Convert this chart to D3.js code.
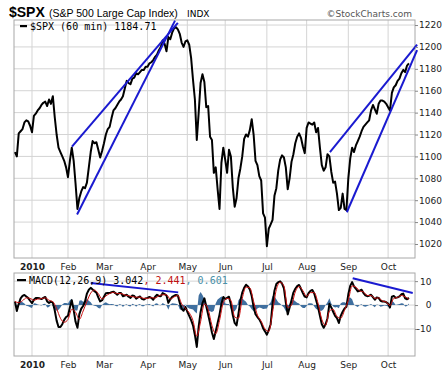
<!DOCTYPE html>
<html>
<head>
<meta charset="utf-8">
<script src="https://cdn.jsdelivr.net/npm/d3@7"></script>
<style>
body { margin: 0; background: #fff; }
svg { display: block; }
.axis path.domain { display: none; }
.axis line { stroke: #888; }
</style>
</head>
<body>
<div id="chart"></div>
<script>
// x axis: trading day index, 0 = Jan 4 2010
const monthLabels = ['2010', 'Feb', 'Mar', 'Apr', 'May', 'Jun', 'Jul', 'Aug', 'Sep', 'Oct'];
const monthDays = [0, 19, 38, 61, 82, 102, 124, 145, 167, 188];

const priceTicks = [1020, 1040, 1060, 1080, 1100, 1120, 1140, 1160, 1180, 1200, 1220];
const macdTicks = [-10, 0, 10];

// $SPX, one reading per trading day, starting at day -9
const spxStartDay = -9;
const spxClose = [
    1104, 1100, 1121, 1123, 1125, 1131, 1133, 1132, 1128, 1122,
    1137, 1139, 1142, 1144, 1147, 1149, 1150, 1146, 1152, 1148,
    1155, 1136, 1120, 1108, 1104, 1100, 1096, 1090, 1081, 1096,
    1108, 1096, 1075, 1052, 1062, 1068, 1072, 1071, 1076, 1090,
    1104, 1114, 1112, 1113, 1106, 1099, 1105, 1112, 1120, 1125,
    1127, 1135, 1142, 1144, 1147, 1150, 1152, 1155, 1162, 1169,
    1167, 1166, 1171, 1172, 1176, 1175, 1177, 1179, 1179, 1182,
    1182, 1185, 1186, 1188, 1191, 1193, 1197, 1200, 1206, 1203,
    1196, 1209, 1207, 1213, 1217, 1218, 1216, 1212, 1204, 1200,
    1205, 1206, 1202, 1190, 1170, 1152, 1115, 1140, 1167, 1175,
    1168, 1145, 1146, 1118, 1115, 1085, 1090, 1070, 1052, 1094,
    1108, 1097, 1085, 1106, 1100, 1072, 1054, 1062, 1080, 1089,
    1100, 1116, 1120, 1118, 1124, 1134, 1120, 1096, 1092, 1082,
    1078, 1048, 1044, 1018, 1034, 1038, 1042, 1064, 1071, 1087,
    1097, 1101, 1099, 1090, 1070, 1080, 1095, 1102, 1112, 1118,
    1121, 1117, 1109, 1103, 1126, 1131, 1130, 1129, 1131, 1122,
    1126, 1108, 1092, 1087, 1090, 1102, 1100, 1086, 1076, 1077,
    1066, 1051, 1053, 1066, 1052, 1051, 1080, 1098, 1108, 1104,
    1110, 1114, 1118, 1123, 1127, 1129, 1131, 1133, 1142, 1147,
    1143, 1139, 1148, 1151, 1151, 1150, 1148, 1145, 1142, 1158,
    1163, 1165, 1169, 1171, 1176, 1179, 1177, 1183, 1185
];

// MACD(12,26,9), same days as the price
const macdValues = [
    1.5, -2.5, 0.5, 2.8, 3.8, 4.2, 3.6, 2.9, 1.8, 0.8,
    2.2, 2.9, 2.9, 2.8, 2.5, 3.0, 3.4, 1.5, 0.9, 1.4,
    1.0, -2.2, -6.5, -9.2, -9.2, -8.0, -6.2, -5.0, -4.5, -1.0,
    2.0, -2.0, -7.0, -9.5, -3.8, -1.5, -0.4, 1.5, 4.8, 6.4,
    7.2, 6.5, 5.8, 5.2, 3.2, 1.5, 2.0, 3.5, 4.9, 5.0,
    5.0, 5.4, 5.6, 5.0, 4.3, 5.0, 5.0, 3.7, 4.0, 4.3,
    3.5, 3.0, 4.0, 3.8, 2.7, 3.2, 3.6, 2.6, 2.3, 2.8,
    3.0, 3.4, 3.0, 2.2, 3.5, 4.3, 3.8, 3.7, 5.0, 4.6,
    4.0, 0.9, 2.4, 3.4, 3.9, 4.2, 4.0, 1.0, -1.5, -2.4,
    -0.8, -2.8, -4.5, -6.3, -8.5, -12.5, -17.5, -9.0, -3.0, 0.8,
    2.8, -0.5, -4.0, -7.5, -11.5, -14.2, -11.0, -7.5, -4.0, 0.5,
    3.4, 2.5, 3.0, 3.5, 0.3, -4.2, -7.5, -8.5, -3.6, 1.8,
    5.2, 7.2, 8.5, 7.8, 6.5, 3.8, -0.8, -3.8, -5.0, -6.0,
    -7.5, -9.7, -11.0, -12.4, -10.5, -8.0, 0.5, 6.0, 8.8, 9.6,
    9.9, 9.0, 7.0, 1.0, -3.9, -1.0, 2.0, 5.2, 6.8, 7.9,
    8.4, 6.8, 5.0, 3.5, 3.2, 5.0, 5.9, 6.3, 4.8, 2.0,
    -0.8, -4.5, -8.0, -9.5, -8.0, -5.5, 0.5, -1.0, -2.8, -4.5,
    -5.5, -7.5, -4.5, -2.8, -1.4, -0.7, 4.5, 8.0, 9.6, 7.8,
    6.8, 5.7, 6.0, 6.4, 5.0, 4.1, 3.7, 3.9, 4.3, 3.3,
    2.2, 3.2, 3.0, 1.8, 1.5, 1.5, 1.2, 0.6, -1.0, 3.5,
    3.8, 3.0, 3.2, 3.6, 4.5, 4.8, 2.8, 2.4, 3.0
];

// signal line, read every 2nd day
const signalStep = 2;
const signalValues = [
    1.5, 1.0, 1.8, 3.0, 2.8, 2.0, 2.5, 2.7, 3.0, 2.0,
    1.4, -1.5, -5.5, -7.2, -6.0, -1.8, -3.0, -6.0, -2.5, 1.5,
    5.0, 6.3, 4.8, 2.5, 3.8, 4.8, 5.3, 4.8, 4.8, 4.2,
    3.9, 3.5, 3.3, 3.3, 2.8, 2.8, 3.1, 2.9, 3.9, 4.3,
    4.3, 2.5, 3.4, 4.0, 0.5, -1.4, -3.2, -6.5, -13.0, -7.0,
    0.5, -1.8, -8.5, -12.0, -6.5, 1.0, 2.8, 2.0, -5.0, -5.5,
    2.8, 7.5, 7.2, 1.5, -4.2, -6.8, -10.0, -11.0, -3.0, 6.5,
    9.5, 8.0, -1.0, 0.0, 5.5, 7.8, 6.0, 3.6, 5.2, 5.2,
    0.8, -6.0, -8.5, -2.5, -1.8, -4.8, -5.5, -2.2, 2.0, 8.0,
    7.5, 5.9, 5.5, 4.0, 4.0, 2.8, 3.0, 1.7, 1.3, -0.2,
    2.8, 3.2, 4.0, 3.5, 2.4
];

// MACD histogram, same days as the price
const histValues = [
    0.5, -1.5, 1.0, 1.8, 1.2, 0.6, -0.3, -0.5, -0.9, -1.2,
    0.8, 0.7, 0.2, 0.0, -0.2, 0.4, 0.5, -1.0, -0.8, 0.2,
    -0.3, -1.8, -2.4, -2.0, -1.0, 0.2, 0.9, 0.9, 0.6, 2.0,
    2.6, -0.8, -2.4, -2.2, 1.8, 2.0, 1.4, 1.6, 2.6, 1.8,
    1.2, 0.0, -0.3, -0.5, -1.2, -1.4, 0.0, 0.8, 1.2, 0.7,
    0.3, 0.4, 0.3, -0.3, -0.6, 0.3, 0.2, -0.8, 0.0, 0.3,
    -0.4, -0.6, 0.5, 0.1, -0.7, 0.1, 0.4, -0.5, -0.5, 0.2,
    0.2, 0.4, -0.1, -0.6, 0.5, 0.8, 0.0, -0.1, 0.9, 0.3,
    -0.2, -2.0, 0.2, 0.8, 0.6, 0.5, 0.2, -1.8, -2.2, -1.8,
    0.2, -0.9, -1.4, -1.6, -1.9, -2.8, -3.5, 4.0, 5.5, 4.2,
    2.5, -1.0, -2.4, -2.6, -2.9, -2.4, 0.8, 2.3, 3.0, 3.6,
    3.0, 0.6, 0.4, 0.4, -1.8, -2.8, -2.6, -1.4, 2.0, 3.0,
    2.8, 2.0, 1.4, 0.0, -0.6, -1.8, -2.6, -2.3, -1.4, -1.0,
    -1.2, -1.6, -1.5, -1.4, 0.2, 1.2, 3.8, 3.6, 2.4, 1.2,
    0.6, -0.3, -1.0, -2.6, -3.0, 0.4, 1.8, 2.2, 1.6, 1.0,
    0.6, -0.6, -1.2, -1.2, -0.4, 0.8, 0.8, 0.6, -0.6, -1.6,
    -2.0, -2.4, -2.4, -1.6, 0.0, 1.2, 2.8, 0.6, -0.6, -1.0,
    -0.8, -1.3, 0.8, 1.2, 1.2, 0.8, 3.0, 3.2, 2.4, 0.2,
    -0.4, -0.8, 0.0, 0.3, -0.5, -0.7, -0.4, 0.0, 0.4, -0.3,
    -0.9, 0.2, 0.0, -0.7, -0.5, -0.2, -0.3, -0.6, -1.6, 1.8,
    1.2, 0.0, 0.2, 0.4, 0.8, 0.7, -0.6, -0.4, 0.6
];

// hand drawn trend lines: [day, value] pairs
const priceWedges = [
    [[21.1, 1109], [77.0, 1222]],
    [[23.8, 1047], [75.5, 1224]],
    [[157.3, 1104], [203.3, 1202]],
    [[166.2, 1049], [203.3, 1197]]
];
const macdTrendLines = [
    [[31.0, 9.2], [77.2, 5.3]],
    [[169.3, 11.2], [201.0, 5.0]]
];

const width = 448, height = 375;
const left = 14, right = 415;
const mainTop = 20, mainBottom = 258;
const macdTop = 273, macdBottom = 356;

const svg = d3.select('#chart').append('svg')
    .attr('width', width)
    .attr('height', height);

const x = d3.scaleLinear().domain([-9.5, 202.2]).range([left, right]);
const yPrice = d3.scaleLinear().domain([1007.2, 1224.6]).range([mainBottom, mainTop]);
const yMacd = d3.scaleLinear().domain([-21.3, 13.4]).range([macdBottom, macdTop]);

const spx = spxClose.map((v, i) => ({ d: spxStartDay + i, v }));
const macd = macdValues.map((v, i) => ({ d: spxStartDay + i, v }));
const hist = histValues.map((v, i) => ({ d: spxStartDay + i, v }));
const signal = signalValues.map((v, i) => ({ d: spxStartDay + i * signalStep, v }));

const defs = svg.append('defs');
defs.append('clipPath').attr('id', 'clipMain')
    .append('rect').attr('x', left).attr('y', mainTop)
    .attr('width', right - left).attr('height', mainBottom - mainTop);
defs.append('clipPath').attr('id', 'clipMacd')
    .append('rect').attr('x', left).attr('y', macdTop)
    .attr('width', right - left).attr('height', macdBottom - macdTop);

// 网格
function drawGrid(y, ticks, top, bottom) {
    const g = svg.append('g').attr('class', 'grid');
    g.selectAll('line.v').data(monthDays).enter().append('line')
        .attr('x1', d => x(d)).attr('x2', d => x(d))
        .attr('y1', top).attr('y2', bottom)
        .attr('stroke', '#d4d4d4').attr('stroke-width', 1);
    g.selectAll('line.h').data(ticks).enter().append('line')
        .attr('x1', left).attr('x2', right)
        .attr('y1', d => y(d)).attr('y2', d => y(d))
        .attr('stroke', '#d4d4d4').attr('stroke-width', 1);
    svg.append('rect')
        .attr('x', left).attr('y', top)
        .attr('width', right - left).attr('height', bottom - top)
        .attr('fill', 'none').attr('stroke', '#a8a8a8').attr('stroke-width', 1);
}
drawGrid(yPrice, priceTicks, mainTop, mainBottom);
drawGrid(yMacd, macdTicks, macdTop, macdBottom);

// price line
const priceLine = d3.line().x(d => x(d.d)).y(d => yPrice(d.v));
svg.append('path')
    .datum(spx)
    .attr('clip-path', 'url(#clipMain)')
    .attr('d', priceLine)
    .attr('fill', 'none')
    .attr('stroke', '#000')
    .attr('stroke-width', 2)
    .attr('stroke-linejoin', 'round');

// MACD panel
const histArea = d3.area().x(d => x(d.d)).y0(yMacd(0)).y1(d => yMacd(d.v));
svg.append('path')
    .datum(hist)
    .attr('clip-path', 'url(#clipMacd)')
    .attr('d', histArea)
    .attr('fill', '#3f6f9f');

const macdLine = d3.line().x(d => x(d.d)).y(d => yMacd(d.v));
svg.append('path')
    .datum(macd)
    .attr('clip-path', 'url(#clipMacd)')
    .attr('d', macdLine)
    .attr('fill', 'none')
    .attr('stroke', '#000')
    .attr('stroke-width', 2)
    .attr('stroke-linejoin', 'round');
svg.append('path')
    .datum(signal)
    .attr('clip-path', 'url(#clipMacd)')
    .attr('d', d3.line().curve(d3.curveMonotoneX).x(d => x(d.d)).y(d => yMacd(d.v)))
    .attr('fill', 'none')
    .attr('stroke', '#cc1111')
    .attr('stroke-width', 1);

// trend lines
svg.append('g').selectAll('line')
    .data(priceWedges).enter().append('line')
    .attr('x1', d => x(d[0][0])).attr('y1', d => yPrice(d[0][1]))
    .attr('x2', d => x(d[1][0])).attr('y2', d => yPrice(d[1][1]))
    .attr('stroke', '#1a1ad0').attr('stroke-width', 2);
svg.append('g').selectAll('line')
    .data(macdTrendLines).enter().append('line')
    .attr('x1', d => x(d[0][0])).attr('y1', d => yMacd(d[0][1]))
    .attr('x2', d => x(d[1][0])).attr('y2', d => yMacd(d[1][1]))
    .attr('stroke', '#1a1ad0').attr('stroke-width', 2);

// y axes
const axisFont = 'DejaVu Sans, Verdana, sans-serif';
const gPriceAxis = svg.append('g').attr('class', 'axis')
    .attr('transform', `translate(${right},0)`)
    .call(d3.axisRight(yPrice).tickValues(priceTicks).tickSize(3).tickPadding(1)
        .tickFormat(d3.format('d')));
gPriceAxis.selectAll('text')
    .style('font-family', axisFont).style('font-size', '9px').attr('fill', '#222');

const gMacdAxis = svg.append('g').attr('class', 'axis')
    .attr('transform', `translate(${right},0)`)
    .call(d3.axisRight(yMacd).tickValues(macdTicks).tickSize(3)
        .tickFormat(d => String(d)));
gMacdAxis.selectAll('text')
    .attr('x', 16.5).attr('text-anchor', 'end')
    .style('font-family', axisFont).style('font-size', '9px').attr('fill', '#222');

// x axes (month labels under each panel)
function drawMonths(yPos) {
    const g = svg.append('g').attr('class', 'axis')
        .attr('transform', `translate(0,${yPos})`)
        .call(d3.axisBottom(x).tickValues(monthDays).tickSize(0).tickPadding(0)
            .tickFormat((d, i) => monthLabels[i]));
    g.selectAll('text')
        .attr('y', 0).attr('dy', 0)
        .style('font-family', axisFont)
        .style('font-size', '9px')
        .style('font-weight', (d, i) => i === 0 ? 'bold' : 'normal')
        .attr('fill', '#222');
}
drawMonths(269.5);
drawMonths(367.5);

// title row
svg.append('text').attr('x', 9).attr('y', 17)
    .style('font-family', 'Liberation Sans, Arial, sans-serif')
    .style('font-size', '14px').style('font-weight', 'bold')
    .text('$SPX');
svg.append('text').attr('x', 49).attr('y', 17)
    .style('font-family', 'Liberation Sans, Arial, sans-serif')
    .style('font-size', '10.5px')
    .text('(S&P 500 Large Cap Index)');
svg.append('text').attr('x', 187).attr('y', 17)
    .style('font-family', axisFont).style('font-size', '9px')
    .text('INDX');
svg.append('text').attr('x', 412).attr('y', 17)
    .attr('text-anchor', 'end')
    .style('font-family', axisFont).style('font-size', '9px')
    .attr('fill', '#555')
    .text('\u00a9StockCharts.com');

// legends
const monoFont = 'DejaVu Sans Mono, monospace';
svg.append('rect').attr('x', 20).attr('y', 25).attr('width', 7).attr('height', 2.2).attr('fill', '#000');
svg.append('text').attr('x', 30).attr('y', 29.5)
    .style('font-family', monoFont).style('font-size', '10px')
    .text('$SPX (60 min) 1184.71');

svg.append('rect').attr('x', 17).attr('y', 279).attr('width', 9).attr('height', 2.2).attr('fill', '#000');
const macdLegend = svg.append('text').attr('x', 29).attr('y', 284)
    .style('font-family', monoFont).style('font-size', '10px');
macdLegend.append('tspan').attr('fill', '#000').text('MACD(12,26,9) 3.042');
macdLegend.append('tspan').attr('fill', '#c01010').text(', 2.441');
macdLegend.append('tspan').attr('fill', '#4a90a8').text(', 0.601');
</script>
</body>
</html>
